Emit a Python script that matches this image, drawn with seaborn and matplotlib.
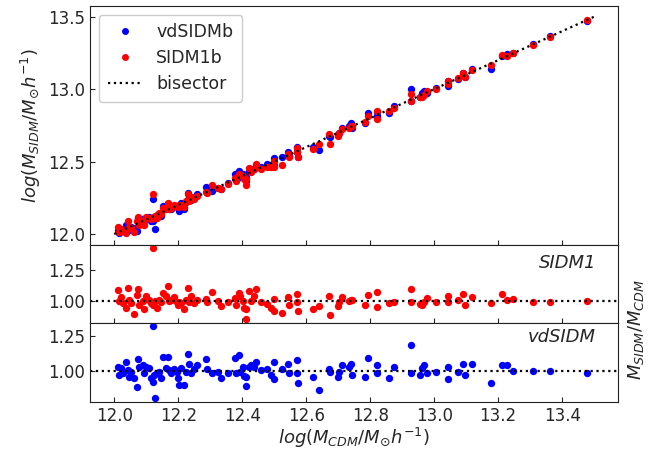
import numpy as np
import pandas as pd
import matplotlib
matplotlib.use("Agg")
import matplotlib.pyplot as plt
from matplotlib.ticker import MultipleLocator, FormatStrFormatter
import seaborn as sns

# log10 halo mass in the CDM run (shared by both SIDM matches)
log_m_cdm = [
    12.011, 12.016, 12.021, 12.026, 12.037, 12.042, 12.047, 12.052, 12.063, 12.071,
    12.075, 12.078, 12.089, 12.094, 12.099, 12.109, 12.115, 12.120, 12.122, 12.125,
    12.128, 12.135, 12.141, 12.146, 12.151, 12.161, 12.167, 12.172, 12.177, 12.187,
    12.196, 12.200, 12.203, 12.208, 12.219, 12.224, 12.231, 12.234, 12.239, 12.250,
    12.260, 12.286, 12.291, 12.307, 12.323, 12.333, 12.354,
    12.377, 12.381, 12.390, 12.394, 12.401, 12.405, 12.411, 12.412, 12.421, 12.428,
    12.437, 12.443, 12.458, 12.476, 12.489, 12.499, 12.500, 12.525, 12.542, 12.546,
    12.571, 12.572, 12.574, 12.622, 12.640, 12.670, 12.675, 12.699, 12.702, 12.713,
    12.733, 12.741, 12.744,
    12.785, 12.793, 12.820, 12.821, 12.858, 12.874, 12.926, 12.927, 12.957, 12.962,
    12.967, 12.979, 13.007, 13.042, 13.043, 13.073, 13.090, 13.095, 13.118, 13.177,
    13.213, 13.227, 13.246, 13.309, 13.363, 13.479,
]

# M_SIDM / M_CDM for the velocity-dependent model
ratio_vdsidm = [
    1.031, 0.972, 1.019, 0.983, 1.066, 1.007, 0.960, 0.995, 0.948, 0.889,
    1.083, 1.031, 1.042, 0.983, 1.031, 1.019, 0.948, 1.319, 0.924, 0.972,
    0.806, 0.988, 0.995, 0.948, 1.101, 1.019, 1.101, 1.007, 0.983, 1.012,
    0.995, 0.948, 0.901, 1.019, 0.901, 0.995, 1.125, 1.054, 0.983, 1.012,
    1.042, 1.090, 1.012, 0.983, 0.995, 0.948, 0.988,
    1.097, 0.983, 1.113, 0.995, 1.031, 0.965, 0.960, 0.894, 1.031, 1.042,
    1.031, 1.066, 1.007, 1.012, 0.972, 1.066, 0.941, 1.012, 1.054, 0.983,
    1.078, 0.988, 0.913, 0.955, 0.865, 1.012, 0.995, 0.960, 0.995, 1.042,
    1.031, 1.054, 0.972,
    0.960, 1.094, 1.047, 0.983, 0.953, 1.026, 1.189, 0.983, 0.972, 1.019,
    1.047, 0.988, 0.995, 1.031, 0.946, 0.995, 1.050, 0.969, 1.050, 0.917,
    1.042, 1.042, 1.002, 1.002, 1.002, 0.983,
]

# M_SIDM / M_CDM for the constant cross-section model
ratio_sidm1 = [
    1.089, 0.995, 1.027, 0.981, 0.940, 1.108, 1.008, 0.981, 0.892, 1.043,
    1.098, 0.967, 0.995, 0.927, 1.035, 1.003, 0.981, 1.431, 0.967, 0.986,
    0.995, 0.940, 1.003, 0.986, 1.062, 1.035, 1.122, 0.995, 1.008, 1.030,
    0.986, 0.967, 0.992, 0.981, 0.927, 1.003, 1.108, 0.986, 1.035, 0.981,
    1.008, 1.014, 0.986, 1.070, 0.995, 0.954, 0.986,
    1.022, 0.967, 1.062, 1.035, 0.995, 0.940, 0.932, 0.846, 1.076, 0.995,
    1.035, 1.098, 0.986, 0.976, 0.940, 1.014, 0.913, 0.894, 1.030, 0.967,
    1.057, 0.986, 0.911, 0.927, 0.954, 1.041, 0.883, 0.954, 0.986, 1.030,
    0.995, 1.008, 1.003,
    0.967, 1.049, 1.068, 0.946, 0.981, 0.986, 1.098, 0.986, 0.976, 0.967,
    0.986, 1.022, 0.986, 1.041, 0.986, 1.003, 1.057, 0.967, 1.030, 0.981,
    1.057, 1.003, 1.014, 0.986, 0.986, 0.995,
]

bisector_range = [12.0, 13.5]
x_ticks = [12.0, 12.2, 12.4, 12.6, 12.8, 13.0, 13.2, 13.4]

df = pd.DataFrame({
    "log_cdm": log_m_cdm,
    "r_vd": ratio_vdsidm,
    "r_s1": ratio_sidm1,
})
df["log_vd"] = df["log_cdm"] + np.log10(df["r_vd"])
df["log_s1"] = df["log_cdm"] + np.log10(df["r_s1"])

ink = "#262626"
plt.rcParams.update({
    "font.family": ["DejaVu Sans"],
    "font.size": 12,
    "text.color": ink,
    "axes.labelcolor": ink,
    "xtick.color": ink,
    "ytick.color": ink,
    "axes.edgecolor": "#222222",
    "xtick.direction": "in",
    "ytick.direction": "in",
    "xtick.labelsize": 12,
    "ytick.labelsize": 12,
    "mathtext.fontset": "dejavusans",
})

fig = plt.figure(figsize=(6.59, 4.50), dpi=100)
gs = fig.add_gridspec(3, 1, height_ratios=[239, 78, 79], hspace=0,
                      left=0.137, right=0.938, top=0.987, bottom=0.107)
ax_top = fig.add_subplot(gs[0])
ax_s1 = fig.add_subplot(gs[1], sharex=ax_top)
ax_vd = fig.add_subplot(gs[2], sharex=ax_top)

pt = dict(s=28, linewidth=0, legend=False)

# main panel: SIDM mass against CDM mass
sns.scatterplot(data=df, x="log_cdm", y="log_vd", color="#0000ff", ax=ax_top, **pt)
sns.scatterplot(data=df, x="log_cdm", y="log_s1", color="#ff0000", ax=ax_top, **pt)
ax_top.plot(bisector_range, bisector_range, ls=":", color="black", lw=1.6)

handles = [
    plt.Line2D([], [], ls="none", marker="o", ms=5, mew=0, color="#0000ff"),
    plt.Line2D([], [], ls="none", marker="o", ms=5, mew=0, color="#ff0000"),
    plt.Line2D([], [], ls=":", lw=1.6, color="black"),
]
ax_top.legend(handles, ["vdSIDMb", "SIDM1b", "bisector"], loc="upper left",
              fontsize=12.5, handlelength=2.0, borderpad=0.5,
              labelspacing=0.45, framealpha=1, edgecolor="#cccccc")
ax_top.set_ylabel(r"$log(M_{SIDM}/M_{\odot}h^{-1})$", fontsize=13)
ax_top.yaxis.set_major_locator(MultipleLocator(0.5))
ax_top.yaxis.set_major_formatter(FormatStrFormatter("%.1f"))

# ratio panels
sns.scatterplot(data=df, x="log_cdm", y="r_s1", color="#ff0000", ax=ax_s1, **pt)
sns.scatterplot(data=df, x="log_cdm", y="r_vd", color="#0000ff", ax=ax_vd, **pt)
for ax, name, ty in [(ax_s1, "SIDM1", 0.77), (ax_vd, "vdSIDM", 0.82)]:
    ax.axhline(1.0, ls=":", color="black", lw=1.6)
    ax.yaxis.set_major_locator(MultipleLocator(0.25))
    ax.yaxis.set_major_formatter(FormatStrFormatter("%.2f"))
    ax.set_ylabel("")
    ax.text(0.958, ty, name, transform=ax.transAxes, ha="right", va="center",
            style="italic", fontsize=13)

for ax in (ax_top, ax_s1):
    ax.tick_params(labelbottom=False)
    ax.set_xlabel("")

ax_vd.set_xticks(x_ticks)
ax_vd.xaxis.set_major_formatter(FormatStrFormatter("%.1f"))
ax_vd.set_xlabel(r"$log(M_{CDM}/M_{\odot}h^{-1})$", fontsize=13, labelpad=1)

fig.text(0.965, 0.267, r"$M_{SIDM}/M_{CDM}$", rotation=90, ha="center",
         va="center", fontsize=13, color=ink)

fig.savefig("out.png", dpi=100)
